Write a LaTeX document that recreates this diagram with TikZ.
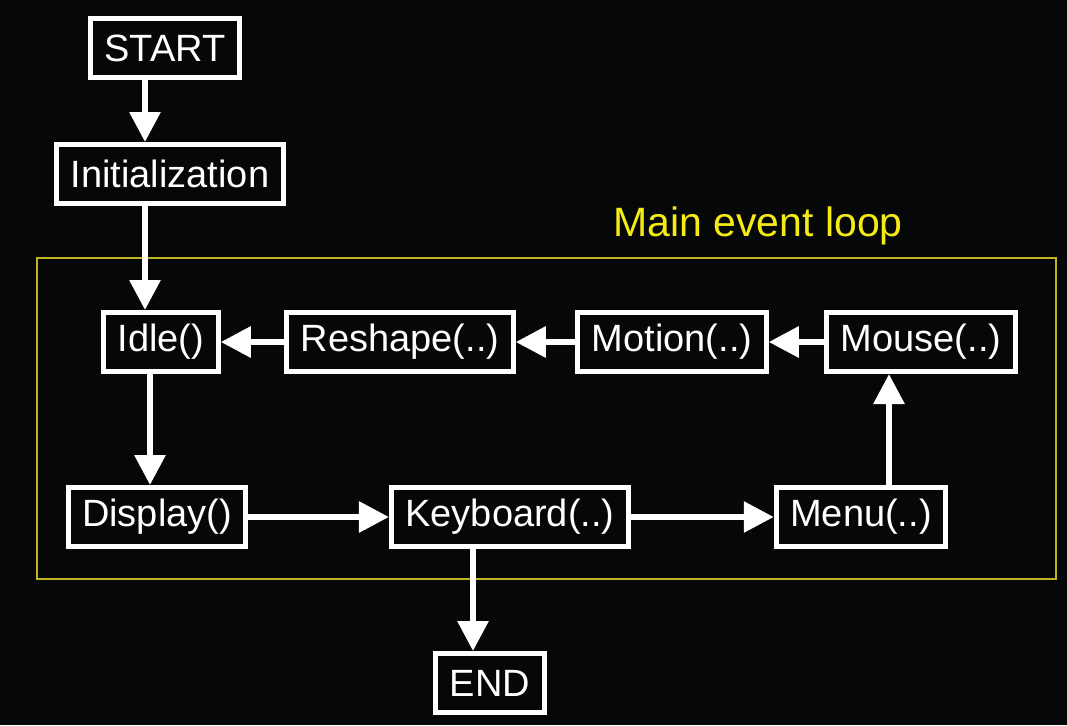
\documentclass[tikz,border=0pt]{standalone}
\usepackage{fontspec}
\setmainfont{Liberation Sans}
\usetikzlibrary{arrows.meta}
\definecolor{bgblack}{RGB}{5,7,8}
\definecolor{loopyellow}{RGB}{190,180,30}
\definecolor{textyellow}{RGB}{245,235,20}
\begin{document}
\begin{tikzpicture}[x=1pt, y=-1pt,
    box/.style={draw=white, line width=5pt, fill=bgblack, text=white,
        inner xsep=14pt, minimum height=59pt,
        font=\fontsize{38}{44}\selectfont},
    flow/.style={draw=white, line width=6pt, -{Triangle[width=30pt,length=30pt]}}]
    \useasboundingbox (0,0) rectangle (1067,725);
    \fill[bgblack] (0,0) rectangle (1067,725);
    % main event loop frame
    \draw[loopyellow, line width=1.5pt] (37,258) rectangle (1056,579);
    \node[text=textyellow, font=\fontsize{41}{48}\selectfont] (looplabel) at (758,226) {Main event loop};
    % boxes
    \node[box] (start) at (165,48) {START};
    \node[box] (init) at (170,174) {Initialization};
    \node[box] (idle) at (161,342) {Idle()};
    \node[box] (reshape) at (400,342) {Reshape(..)};
    \node[box] (motion) at (672,342) {Motion(..)};
    \node[box] (mouse) at (921,342) {Mouse(..)};
    \node[box] (display) at (157,517) {Display()};
    \node[box] (keyboard) at (510,517) {Keyboard(..)};
    \node[box] (menu) at (861,517) {Menu(..)};
    \node[box] (finish) at (490,683) {END};
    % connectors
    \draw[flow] ([xshift=-20pt]start.south) -- ([xshift=-25pt]init.north);
    \draw[flow] ([xshift=-25pt]init.south) -- ([xshift=-16pt]idle.north);
    \draw[flow] ([xshift=-11pt]idle.south) -- ([xshift=-7pt]display.north);
    \draw[flow] (display.east) -- (keyboard.west);
    \draw[flow] (keyboard.east) -- (menu.west);
    \draw[flow] ([xshift=28pt]menu.north) -- ([xshift=-32pt]mouse.south);
    \draw[flow] (mouse.west) -- (motion.east);
    \draw[flow] (motion.west) -- (reshape.east);
    \draw[flow] (reshape.west) -- (idle.east);
    \draw[flow] ([xshift=-37pt]keyboard.south) -- ([xshift=-17pt]finish.north);
\end{tikzpicture}
\end{document}
